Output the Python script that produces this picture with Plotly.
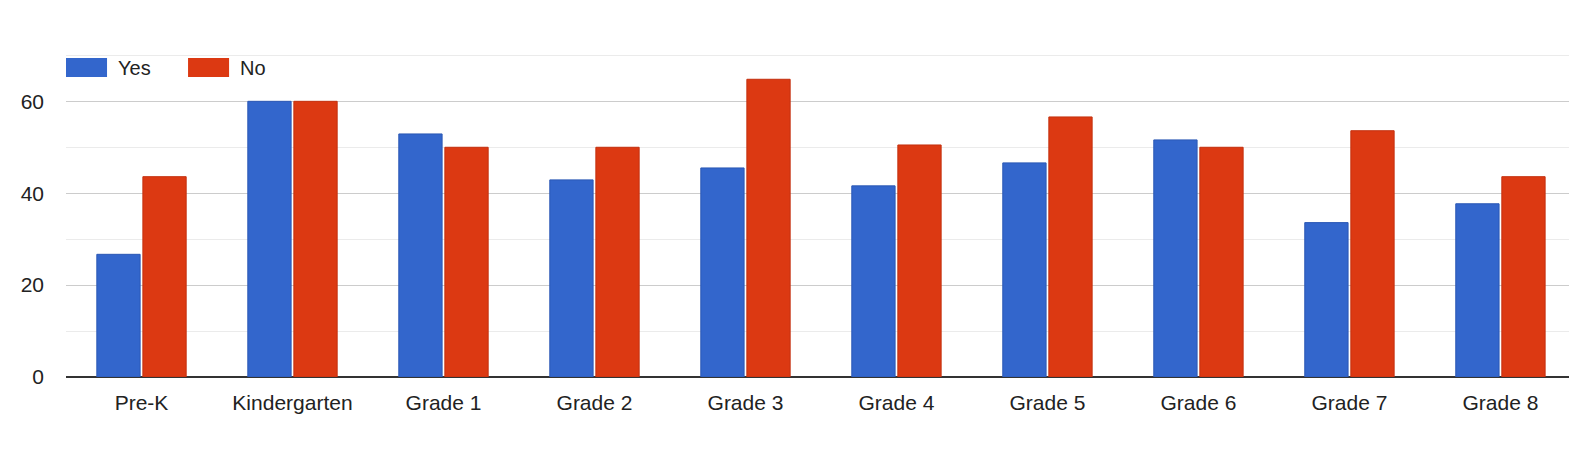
import plotly.graph_objects as go

grades = ['Pre-K', 'Kindergarten', 'Grade 1', 'Grade 2', 'Grade 3',
          'Grade 4', 'Grade 5', 'Grade 6', 'Grade 7', 'Grade 8']
yes_counts = [26.7, 60, 52.9, 42.9, 45.5, 41.6, 46.6, 51.6, 33.6, 37.7]
no_counts = [43.6, 60, 50, 50, 64.8, 50.5, 56.6, 50, 53.6, 43.6]

series = [('Yes', yes_counts, '#3366CC', '#2b58b5'),
          ('No', no_counts, '#DC3912', '#c4300e')]

fig = go.Figure()
for name, values, color, edge in series:
    fig.add_trace(go.Bar(
        x=grades, y=values, name=name,
        marker={'color': color, 'line': {'color': edge, 'width': 1}},
        hoverinfo='x+y+name',
    ))

# legend drawn google-charts style: wide swatches with labels
swatch_x = [(0.0, 0.0273), (0.0812, 0.1085)]
for (name, _, color, _), (x0, x1) in zip(series, swatch_x):
    fig.add_shape(type='rect', xref='paper', yref='paper',
                  x0=x0, x1=x1, y0=0.929, y1=0.988,
                  fillcolor=color, line={'width': 0})
    fig.add_annotation(text=name, xref='paper', yref='paper',
                       x=x1 + 0.0062, y=0.958, xanchor='left', yanchor='middle',
                       showarrow=False, font={'size': 20, 'color': '#222222'})

# page body has an 8px margin, so the figure is sized to sit inside it
fig.update_layout(
    width=1561, height=436,
    margin={'l': 58, 'r': 0, 't': 46, 'b': 67},
    paper_bgcolor='white', plot_bgcolor='white',
    barmode='group', bargap=0.39, bargroupgap=0.06,
    showlegend=False,
    font={'family': 'Liberation Sans, Arial, sans-serif', 'size': 21, 'color': '#222222'},
)
# last category runs slightly past the right edge, as in the original
fig.update_xaxes(range=[-0.5, 9.454], showgrid=False, ticks='', tickfont={'size': 21},
                 showline=False, automargin=False, ticklabelstandoff=11)
fig.update_yaxes(range=[0, 70.3], tickvals=[0, 20, 40, 60], showgrid=True,
                 gridcolor='#cccccc', gridwidth=1,
                 minor={'tickvals': [10, 30, 50, 70], 'showgrid': True,
                        'gridcolor': '#ebebeb', 'gridwidth': 1},
                 zeroline=True, zerolinecolor='#333333', zerolinewidth=1.5,
                 automargin=False, ticklabelstandoff=21, tickfont={'size': 21})

fig.write_html('out.html')
